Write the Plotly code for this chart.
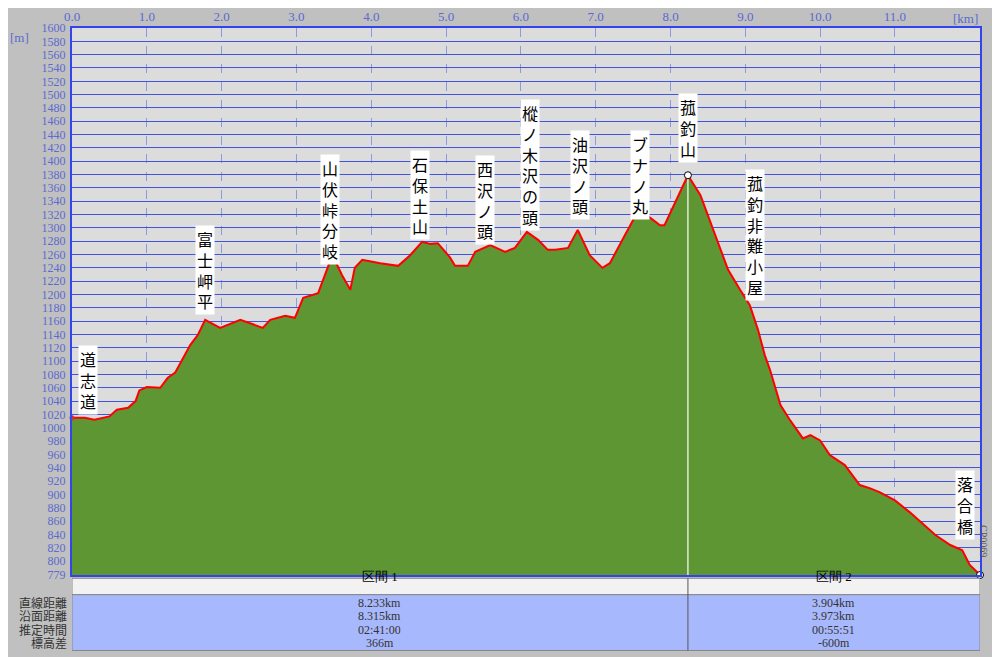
import plotly.graph_objects as go

# elevation profile (km, m)
dist_km = [0, 0.17, 0.3, 0.5, 0.6, 0.75, 0.85, 0.9, 1.0, 1.18, 1.28, 1.38, 1.58, 1.68, 1.78,
           1.98, 2.25, 2.45, 2.55, 2.65, 2.85, 2.98, 3.09, 3.29, 3.48, 3.61, 3.72, 3.78, 3.88,
           4.12, 4.36, 4.52, 4.68, 4.79, 4.89, 5.05, 5.12, 5.29, 5.39, 5.59, 5.79, 5.92, 6.08,
           6.23, 6.36, 6.46, 6.63, 6.76, 6.92, 7.09, 7.19, 7.39, 7.59, 7.73, 7.86, 7.92, 8.233,
           8.4, 8.6, 8.77, 8.93, 9.06, 9.17, 9.26, 9.33, 9.47, 9.6, 9.77, 9.87, 10.0, 10.13,
           10.33, 10.53, 10.67, 10.8, 11.0, 11.2, 11.54, 11.74, 11.9, 12.0, 12.137]
elev_m = [1015, 1015, 1012, 1017, 1027, 1030, 1040, 1056, 1061, 1060, 1075, 1083, 1124, 1139, 1162,
          1150, 1162, 1154, 1150, 1162, 1168, 1165, 1195, 1202, 1259, 1229, 1207, 1240, 1252,
          1247, 1243, 1259, 1279, 1276, 1277, 1256, 1243, 1243, 1264, 1274, 1264, 1270, 1294,
          1282, 1267, 1267, 1270, 1297, 1259, 1240, 1247, 1289, 1330, 1315, 1304, 1304, 1379,
          1349, 1289, 1237, 1207, 1184, 1147, 1109, 1087, 1034, 1011, 984, 989, 981, 959,
          944, 914, 909, 903, 891, 873, 839, 824, 816, 794, 779]

# place names (km, m at label centre)
places = ["道志道", "富士岬平", "山伏峠分岐", "石保土山", "西沢ノ頭", "樅ノ木沢の頭",
          "油沢ノ頭", "ブナノ丸", "菰釣山", "菰釣非難小屋", "落合橋"]
place_km = [0.22, 1.78, 3.45, 4.65, 5.52, 6.12, 6.79, 7.59, 8.23, 9.13, 11.94]
place_m = [1071, 1237, 1327, 1349, 1342, 1394, 1379, 1379, 1450, 1289, 884]

y_ticks = [779] + list(range(800, 1601, 20))
x_ticks = [i * 1.0 for i in range(12)]

row_names = ["直線距離", "沿面距離", "推定時間", "標高差"]
sec1 = ["8.233km", "8.315km", "02:41:00", "366m"]
sec2 = ["3.904km", "3.973km", "00:55:51", "-600m"]
split_km = 8.233
end_km = 12.137

fig = go.Figure()
fig.add_trace(go.Scatter(x=dist_km, y=elev_m, mode="lines", fill="tozeroy",
                         fillcolor="#5e9634", line=dict(color="#ff0000", width=2),
                         hoverinfo="skip"))
fig.add_trace(go.Scatter(x=[split_km, split_km], y=[779, 1379], mode="lines",
                         line=dict(color="white", width=1.2), hoverinfo="skip"))
fig.add_trace(go.Scatter(x=[split_km, end_km], y=[1379, 779], mode="markers",
                         marker=dict(color="white", size=7, line=dict(color="black", width=1)),
                         cliponaxis=False, hoverinfo="skip"))
fig.add_trace(go.Scatter(x=[0], y=[1015], mode="markers",
                         marker=dict(color="#cc3333", size=5), cliponaxis=False, hoverinfo="skip"))

for name, xk, ym in zip(places, place_km, place_m):
    fig.add_annotation(x=xk, y=ym, text="<br>".join(name), showarrow=False,
                       bgcolor="white", font=dict(size=16, color="black",
                                                  family="Noto Sans CJK JP"),
                       borderpad=1)
fig.add_annotation(x=end_km, y=830, text="CP0069", textangle=90, showarrow=False,
                   xshift=4, font=dict(size=10, color="#555"))

# table below the chart
hdr_top, hdr_bot, tbl_bot = -0.006, -0.036, -0.138
fig.add_shape(type="rect", xref="x", yref="paper", x0=0, x1=end_km, y0=hdr_bot, y1=hdr_top,
              fillcolor="#f2f2f2", line=dict(color="#888", width=1))
fig.add_shape(type="rect", xref="x", yref="paper", x0=0, x1=end_km, y0=tbl_bot, y1=hdr_bot,
              fillcolor="#a8b8fc", line=dict(color="#888", width=1))
fig.add_shape(type="line", xref="x", yref="paper", x0=split_km, x1=split_km, y0=tbl_bot,
              y1=hdr_top, line=dict(color="#555", width=1))
c1, c2 = split_km / 2, (split_km + end_km) / 2
fig.add_annotation(x=c1, y=(hdr_top + hdr_bot) / 2, yref="paper", text="区間 1",
                   showarrow=False, font=dict(size=13, color="black"))
fig.add_annotation(x=c2, y=(hdr_top + hdr_bot) / 2, yref="paper", text="区間 2",
                   showarrow=False, font=dict(size=13, color="black"))
for i, (rn, a, b) in enumerate(zip(row_names, sec1, sec2)):
    yy = hdr_bot - 0.028 - i * 0.0245
    fig.add_annotation(x=0, y=yy, yref="paper", text=rn, showarrow=False, xanchor="right",
                       xshift=-4, height=13, borderpad=0,
                       font=dict(size=12, color="#333", family="Noto Sans CJK JP"))
    fig.add_annotation(x=c1, y=yy, yref="paper", text=a, showarrow=False, height=13,
                       borderpad=0, font=dict(size=12, color="#333", family="Liberation Serif"))
    fig.add_annotation(x=c2, y=yy, yref="paper", text=b, showarrow=False, height=13,
                       borderpad=0, font=dict(size=12, color="#333", family="Liberation Serif"))

fig.add_annotation(xref="paper", yref="paper", x=-0.07, y=1.0, text="[m]", showarrow=False,
                   font=dict(size=13, color="#5a6ad0", family="Liberation Serif"))
fig.add_annotation(xref="paper", yref="paper", x=1.0, y=1.035, text="[km]", showarrow=False,
                   font=dict(size=13, color="#5a6ad0", family="Liberation Serif"))

fig.update_layout(
    width=1000, height=657, showlegend=False,
    margin=dict(l=64, r=28, t=20, b=90),
    paper_bgcolor="#c0c0c0", plot_bgcolor="#dcdcdc",
    font=dict(family="Liberation Serif"),
    xaxis=dict(range=[0, end_km], side="top", tickvals=x_ticks, automargin=False,
               ticktext=["%.1f" % v for v in x_ticks], tickfont=dict(size=13, color="#5a6ad0"),
               showgrid=True, gridcolor="#8c9ae0", griddash="dash", gridwidth=1,
               zeroline=False, showline=True, linecolor="#3344ee", mirror=True, linewidth=2),
    yaxis=dict(range=[779, 1600], tickvals=y_ticks, ticktext=[str(v) for v in y_ticks],
               automargin=False, ticklabelstandoff=2,
               tickfont=dict(size=12, color="#5a6ad0"), showgrid=True, gridcolor="#4455dd",
               gridwidth=1, zeroline=False, showline=True, linecolor="#3344ee", mirror=True,
               linewidth=2, layer="above traces"),
)

fig.write_html("out.html")
